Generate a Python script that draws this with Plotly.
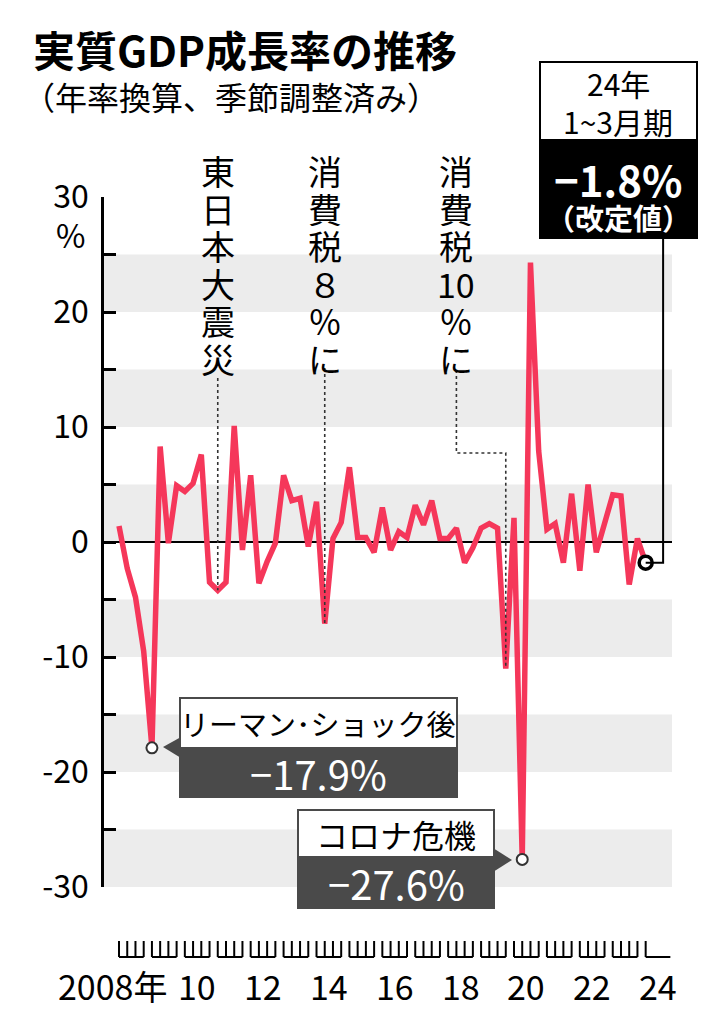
import plotly.graph_objects as go

# data: real GDP growth, annualised q/q, 2008 Q1 - 2024 Q1
years = list(range(2008, 2025))
quarters = [1, 2, 3, 4]
growth = [1.4, -2.3, -4.8, -9.5,
          -17.9, 8.3, -0.1, 4.9,
          4.4, 5.1, 7.6, -3.5,
          -4.2, -3.5, 10.1, -0.7,
          5.8, -3.6, -1.7, -0.1,
          5.8, 3.6, 3.8, -0.4,
          3.5, -7.1, 0.3, 1.7,
          6.5, 0.4, 0.4, -0.9,
          3.0, -0.7, 0.9, 0.4,
          3.2, 1.5, 3.6, 0.3,
          0.3, 1.2, -1.8, -0.5,
          1.2, 1.6, 1.2, -11.0,
          2.1, -27.6, 24.3, 7.9,
          1.1, 1.6, -1.8, 4.2,
          -2.5, 5.0, -0.9, 1.5,
          4.1, 4.0, -3.7, 0.3,
          -1.8]
x_q = [y + (q - 1) / 4 for y in years for q in quarters][:len(growth)]

# vertical event labels, one cell per list item
event_labels = [['東', '日', '本', '大', '震', '災'],
                ['消', '費', '税', '８', '％', 'に'],
                ['消', '費', '税', '10', '％', 'に']]
event_idx = [12, 25, 47]
label_idx = [12, 25, 41]
lehman_idx, corona_idx, last_idx = 4, 49, len(growth) - 1

y_ticks = list(range(-30, 31, 5))
y_text = [str(v) if v % 10 == 0 else '' for v in y_ticks]
band_lows = [20, 10, 0, -10, -20, -30]

# page geometry in reference pixels (page body has an 8px margin)
W, H = 726, 1024
OFF = 8
PL, PR, PT, PB = 104, 672, 197, 887
FONT = 'Noto Sans CJK JP'
RED = '#F5375A'
DARK = '#4a4a4a'


def px(x):
    return (x - PL) / (PR - PL)


def py(y):
    return (PB - y) / (PB - PT)


def yv(pix):
    # pixel row -> y value
    return 30 - (pix - PT) * 60 / (PB - PT)


def pct(v):
    return ('−' if v < 0 else '') + f'{abs(v):.1f}%'


fig = go.Figure()
fig.add_trace(go.Scatter(x=x_q, y=growth, mode='lines',
                         line=dict(color=RED, width=5.5), hoverinfo='skip'))
fig.add_trace(go.Scatter(x=[x_q[lehman_idx], x_q[corona_idx]],
                         y=[growth[lehman_idx], growth[corona_idx]],
                         mode='markers', cliponaxis=False,
                         marker=dict(size=11, color='white', line=dict(color='#333333', width=2))))

shapes = []
for lo in band_lows:
    shapes.append(dict(type='rect', xref='paper', yref='y', x0=0, x1=1, y0=lo, y1=lo + 5,
                       fillcolor='#ECECEC', line_width=0, layer='below'))

# quarter brackets under the plot
for yr in years:
    shapes.append(dict(type='line', xref='x', yref='paper', x0=yr, x1=yr + 0.75,
                       y0=py(957), y1=py(957), line=dict(color='black', width=2)))
    nq = 4 if yr < years[-1] else 1
    for k in range(nq):
        shapes.append(dict(type='line', xref='x', yref='paper', x0=yr + k / 4, x1=yr + k / 4,
                           y0=py(941), y1=py(957), line=dict(color='black', width=2)))

# dotted leaders to events
dot = dict(color='#333333', width=1.6, dash='dot')
i0, i1, i2 = event_idx
shapes.append(dict(type='line', xref='x', yref='y', x0=x_q[i0], x1=x_q[i0],
                   y0=yv(378), y1=growth[i0], line=dot))
shapes.append(dict(type='line', xref='x', yref='y', x0=x_q[i1], x1=x_q[i1],
                   y0=yv(368), y1=growth[i1], line=dot))
xe = x_q[label_idx[2]]
shapes.append(dict(type='path', xref='x', yref='y', line=dot,
                   path=f'M {xe},{yv(370)} L {xe},{yv(453)} L {x_q[i2]},{yv(453)} L {x_q[i2]},{growth[i2]}'))

# latest value connector
xc = x_q[last_idx] + 0.53
shapes.append(dict(type='path', xref='x', yref='y', line=dict(color='black', width=2),
                   path=f'M {xc},{yv(238)} L {xc},{growth[last_idx]} L {x_q[last_idx]},{growth[last_idx]}'))

# boxes
shapes += [
    dict(type='rect', xref='paper', yref='paper', x0=px(540), x1=px(697), y0=py(140), y1=py(62),
         fillcolor='white', line=dict(color='black', width=2)),
    dict(type='rect', xref='paper', yref='paper', x0=px(540), x1=px(697), y0=py(238), y1=py(140),
         fillcolor='black', line=dict(color='black', width=2)),
    dict(type='rect', xref='paper', yref='paper', x0=px(180), x1=px(457), y0=py(748), y1=py(698),
         fillcolor='white', line=dict(color=DARK, width=2)),
    dict(type='rect', xref='paper', yref='paper', x0=px(180), x1=px(457), y0=py(797), y1=py(748),
         fillcolor=DARK, line=dict(color=DARK, width=2)),
    dict(type='path', xref='paper', yref='paper', fillcolor=DARK, line_width=0,
         path=f'M {px(181)},{py(737)} L {px(163)},{py(747)} L {px(181)},{py(758)} Z'),
    dict(type='rect', xref='paper', yref='paper', x0=px(298), x1=px(494), y0=py(857), y1=py(810),
         fillcolor='white', line=dict(color=DARK, width=2)),
    dict(type='rect', xref='paper', yref='paper', x0=px(298), x1=px(494), y0=py(908), y1=py(857),
         fillcolor=DARK, line=dict(color=DARK, width=2)),
    dict(type='path', xref='paper', yref='paper', fillcolor=DARK, line_width=0,
         path=f'M {px(493)},{py(848)} L {px(512)},{py(860)} L {px(493)},{py(872)} Z'),
]

fig.add_trace(go.Scatter(x=[x_q[last_idx]], y=[growth[last_idx]], mode='markers', cliponaxis=False,
                         marker=dict(size=13, color='white', line=dict(color='black', width=3.5))))


def note(text, x, y, size, color='black', weight='normal', xanchor='center', xref='paper',
         yanchor='middle', height=None):
    return dict(text=text, x=x, y=y, xref=xref, yref='paper', showarrow=False,
                xanchor=xanchor, yanchor=yanchor, height=height, borderpad=0,
                font=dict(family=FONT, size=size, color=color, weight=weight))


ann = [
    note('実質GDP成長率の推移', px(32), py(48), 42, weight='bold', xanchor='left'),
    note('（年率換算、季節調整済み）', px(22), py(96), 32, xanchor='left'),
    note('%', px(70), py(234), 32, height=30),
    note('24年', px(618), py(83), 30, height=36),
    note('1~3月期', px(618), py(121), 30, height=36),
    note(pct(growth[last_idx]), px(618), py(178), 42, color='white', weight='bold', height=44),
    note('（改定値）', px(618), py(217), 29, color='white', weight='bold', height=34),
    note('リーマン･ショック後', px(318), py(723), 29, height=44),
    note(pct(growth[lehman_idx]), px(318), py(773), 40, color='white', height=44),
    note('コロナ危機', px(396), py(834), 32, height=44),
    note(pct(growth[corona_idx]), px(396), py(883), 40, color='white', height=44),
]
for cells, idx in zip(event_labels, label_idx):
    for k, ch in enumerate(cells):
        ann.append(note(ch, x_q[idx], py(170 + 37.5 * k), 34, xref='x', height=36))

ann.append(note(f'{years[0]}年', years[0] + 1.5, py(985), 34, xref='x', xanchor='right'))
for yr in years[2::2]:
    ann.append(note(f'{yr % 100:02d}', yr + 0.375, py(985), 34, xref='x'))

fig.update_layout(
    width=W - OFF, height=H - OFF,
    margin=dict(l=PL - OFF, r=W - PR, t=PT - OFF, b=H - PB),
    paper_bgcolor='white', plot_bgcolor='white',
    showlegend=False,
    shapes=shapes, annotations=ann,
    font=dict(family=FONT, color='black'),
    xaxis=dict(range=[x_q[0] - 0.456, x_q[-1] + 0.80], visible=False, fixedrange=True),
    yaxis=dict(range=[-30, 30], tickvals=y_ticks, ticktext=y_text, ticks='inside',
               ticklen=12, tickwidth=2.5, tickcolor='black', showline=True, linecolor='black',
               linewidth=2.5, showgrid=False, zeroline=True, zerolinecolor='black',
               zerolinewidth=2, tickfont=dict(family=FONT, size=32), ticklabelstandoff=6),
)

fig.write_html('out.html')
